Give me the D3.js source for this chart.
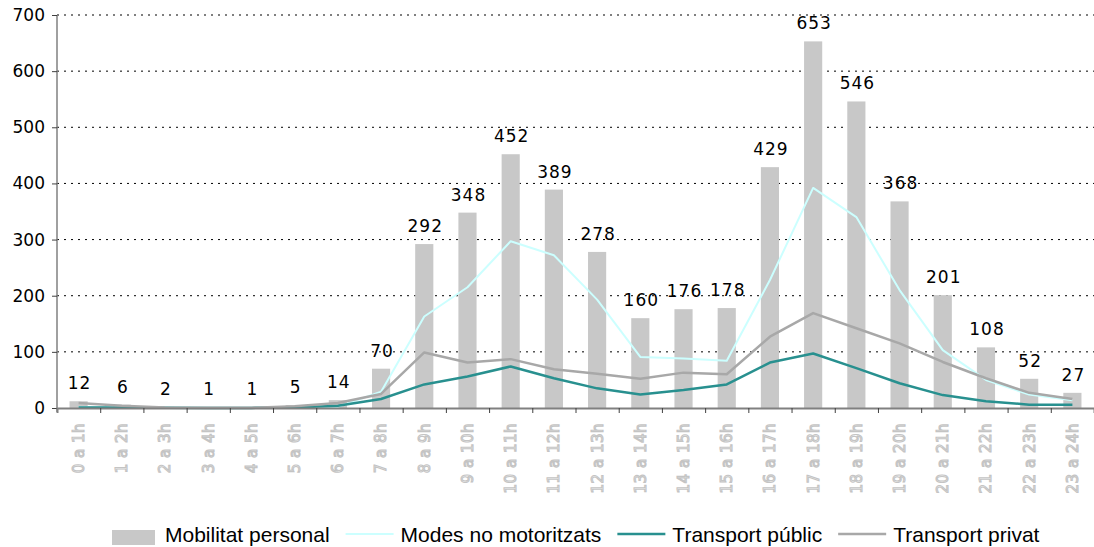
<!DOCTYPE html>
<html>
<head>
<meta charset="utf-8">
<script src="https://cdn.jsdelivr.net/npm/d3@7"></script>
<style>
  body { margin: 0; background: #fff; }
  svg { display: block; }
</style>
</head>
<body>
<div id="chart"></div>
<script>
// data
const hours = ["0 a 1h", "1 a 2h", "2 a 3h", "3 a 4h", "4 a 5h", "5 a 6h", "6 a 7h", "7 a 8h",
    "8 a 9h", "9 a 10h", "10 a 11h", "11 a 12h", "12 a 13h", "13 a 14h", "14 a 15h", "15 a 16h",
    "16 a 17h", "17 a 18h", "18 a 19h", "19 a 20h", "20 a 21h", "21 a 22h", "22 a 23h", "23 a 24h"];
const mobilitat = [12, 6, 2, 1, 1, 5, 14, 70, 292, 348, 452, 389, 278, 160, 176, 178, 429, 653, 546, 368, 201, 108, 52, 27];
const noMotor = [2, 1, 0.5, 0.3, 0.3, 1, 2, 29, 163, 215, 297, 272, 193, 91, 88, 84, 228, 392, 340, 210, 103, 50, 24, 14];
const public_ = [1, 1, 0.5, 0.2, 0.2, 1, 4, 16, 42, 56, 74, 53, 35, 24, 32, 42, 81, 97, 71, 44, 23, 12, 6, 6];
const privat = [9, 4, 1, 0.5, 0.5, 3, 9, 25, 99, 81, 87, 69, 61, 52, 63, 60, 127, 169, 142, 115, 82, 53, 27, 16];
const yTicks = [0, 100, 200, 300, 400, 500, 600, 700];
const seriesNames = ["Mobilitat personal", "Modes no motoritzats", "Transport públic", "Transport privat"];

// constants
const w = 1094;
const h = 547;
const mLeft = 57, mRight = 1094, mTop = 15, mBottom = 408;
const barColor = "#c8c8c8";
const lineColors = ["#ccffff", "#28908f", "#a8a8a8"];
const lineData = [noMotor, public_, privat];
const lineWidths = [2, 2.5, 2.5];
const labelFont = "DejaVu Sans, Verdana, sans-serif";

const svg = d3.select("#chart").append("svg").attr("width", w).attr("height", h);

// scales
const x = d3.scaleBand().domain(hours).range([mLeft, mRight]);
const xEdge = d3.scaleLinear().domain([0, hours.length]).range([mLeft, mRight]);
const y = d3.scaleLinear().domain([0, 700]).range([mBottom, mTop]);

// dotted grid
svg.append("g")
    .selectAll("line")
    .data(yTicks.filter(d => d > 0))
    .join("line")
    .attr("x1", mLeft).attr("x2", mRight)
    .attr("y1", d => y(d)).attr("y2", d => y(d))
    .attr("stroke", "#000")
    .attr("stroke-width", 1)
    .attr("stroke-dasharray", "2,5");

// bars
const bw = x.bandwidth() * 0.42;
svg.append("g")
    .selectAll("rect")
    .data(mobilitat)
    .join("rect")
    .attr("x", (d, i) => x(hours[i]) + (x.bandwidth() - bw) / 2)
    .attr("y", d => y(d))
    .attr("width", bw)
    .attr("height", d => y(0) - y(d))
    .attr("fill", barColor);

// lines
const line = d3.line()
    .x((d, i) => x(hours[i]) + x.bandwidth() / 2)
    .y(d => y(d));

lineData.forEach((data, k) => {
    svg.append("path")
        .datum(data)
        .attr("fill", "none")
        .attr("stroke", lineColors[k])
        .attr("stroke-width", lineWidths[k])
        .attr("stroke-linejoin", "round")
        .attr("d", line);
});

// value labels
svg.append("g")
    .selectAll("text")
    .data(mobilitat)
    .join("text")
    .attr("x", (d, i) => x(hours[i]) + x.bandwidth() / 2 + 1)
    .attr("y", d => y(d) - 12)
    .attr("text-anchor", "middle")
    .attr("font-family", labelFont)
    .attr("font-size", 17)
    .attr("letter-spacing", 1)
    .attr("fill", "#000")
    .text(d => d);

// y axis
const yAxis = d3.axisLeft(y).tickValues(yTicks).tickSize(5).tickPadding(7);
const gy = svg.append("g")
    .attr("transform", "translate(" + mLeft + ",0)")
    .call(yAxis);
gy.select(".domain").attr("stroke", "#808080").attr("stroke-width", 1.5).attr("d", "M0," + mTop + "V" + (mBottom + 4));
gy.selectAll(".tick line").attr("stroke", "#404040");
gy.selectAll(".tick text")
    .attr("font-family", labelFont)
    .attr("font-size", 17)
    .attr("fill", "#000");

// x axis (ticks between categories)
const xAxis = d3.axisBottom(xEdge).tickValues(d3.range(1, hours.length + 1)).tickSize(5).tickFormat("");
const gx = svg.append("g")
    .attr("transform", "translate(0," + mBottom + ")")
    .call(xAxis);
gx.select(".domain").attr("stroke", "#808080").attr("stroke-width", 2);
gx.selectAll(".tick line").attr("stroke", "#404040");

// hour labels, outlined grey text
svg.append("g")
    .selectAll("text")
    .data(hours)
    .join("text")
    .attr("transform", d => "translate(" + (x(d) + x.bandwidth() / 2) + "," + (mBottom + 15) + ") rotate(-90)")
    .attr("dy", "0.36em")
    .attr("text-anchor", "end")
    .attr("font-family", labelFont)
    .attr("font-size", 15)
    .attr("letter-spacing", 0.5)
    .attr("fill", "#fff")
    .attr("stroke", "#c4c4c4")
    .attr("stroke-width", 1.1)
    .text(d => d);

// legend
const legend = svg.append("g").attr("font-family", "Liberation Sans, Arial, sans-serif").attr("font-size", 21);
let lx = 112;
seriesNames.forEach((name, i) => {
    if (i == 0) {
        legend.append("rect")
            .attr("x", lx).attr("y", 530).attr("width", 43).attr("height", 15)
            .attr("fill", barColor);
        lx += 53;
    } else {
        legend.append("line")
            .attr("x1", lx).attr("x2", lx + 48)
            .attr("y1", 534).attr("y2", 534)
            .attr("stroke", lineColors[i - 1])
            .attr("stroke-width", lineWidths[i - 1]);
        lx += 55;
    }
    const t = legend.append("text")
        .attr("x", lx).attr("y", 542)
        .attr("fill", "#000")
        .text(name);
    lx += t.node().getComputedTextLength() + 16;
});
</script>
</body>
</html>
